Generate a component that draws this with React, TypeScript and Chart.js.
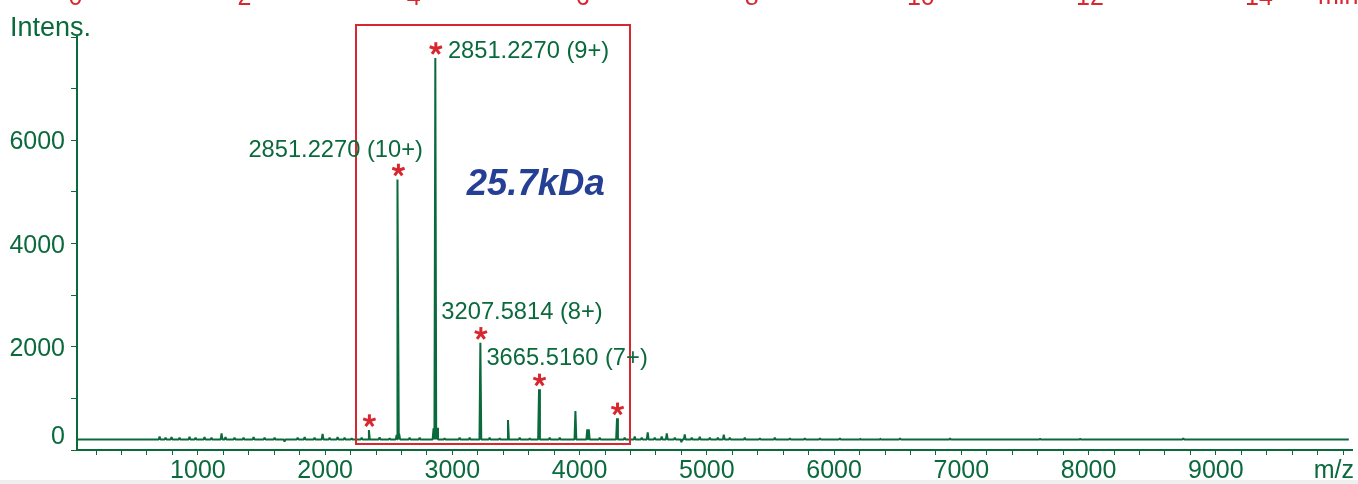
import React, { useEffect, useRef } from "react";
import { Chart, registerables } from "chart.js";

Chart.register(...registerables);

// ---------- data ----------
const BASELINE = 205;
const X_MIN = 50;
const X_MAX = 10070;
const Y_MIN = 0;
const Y_MAX = 8000;

const peakMz = [2344, 2572, 2866, 3220, 3437, 3681, 3967, 4060, 4072, 4294];
const peakIntensity = [387, 5241, 7595, 2077, 581, 1175, 755, 400, 400, 614];
const peakStarred = [true, true, true, true, false, true, false, false, false, true];
const peakLabels = ["", "2851.2270 (10+)", "2851.2270 (9+)", "3207.5814 (8+)", "", "3665.5160 (7+)", "", "", "", ""];

const noiseMz = [
  699, 746, 793, 856, 934, 982, 1052, 1107, 1186, 1217, 1288, 1359, 1438, 1524, 1603, 1681,
  1784, 1839, 1917, 1980, 2035, 2098, 2153, 2208, 2287, 2428, 2507, 2562, 2582, 2664, 2743,
  2852, 2880, 2939, 3057, 3136, 3293, 3372, 3529, 3608, 3765, 3844, 4158, 4354, 4433, 4488,
  4535, 4590, 4645, 4685, 4748, 4800, 4826, 4881, 4944, 5023, 5086, 5133, 5180, 5298, 5416,
  5534, 5652, 5770, 5888, 6045, 6203, 6360, 6518, 6911, 7619, 7934, 8744,
];
const noiseIntensity = [
  262, 240, 250, 238, 255, 240, 250, 238, 320, 250, 240, 238, 252, 240, 238, 165,
  240, 252, 238, 310, 240, 250, 238, 225, 240, 242, 225, 290, 310, 240, 238,
  420, 430, 225, 240, 238, 240, 225, 240, 225, 240, 238, 240, 240, 258, 240,
  340, 240, 258, 320, 240, 150, 300, 238, 255, 240, 238, 295, 240, 238, 225,
  238, 225, 225, 225, 225, 225, 225, 225, 222, 220, 220, 228,
];

const xTickValues = [
  200, 400, 600, 800, 1000, 1200, 1400, 1600, 1800, 2000, 2200, 2400, 2600, 2800, 3000,
  3200, 3400, 3600, 3800, 4000, 4200, 4400, 4600, 4800, 5000, 5200, 5400, 5600, 5800, 6000,
  6200, 6400, 6600, 6800, 7000, 7200, 7400, 7600, 7800, 8000, 8200, 8400, 8600, 8800, 9000,
  9200, 9400, 9600, 9800, 10000,
];
const xTickLabels = [1000, 2000, 3000, 4000, 5000, 6000, 7000, 8000, 9000];
const yTickLabels = [2000, 4000, 6000];
const timeTicks = [0, 2, 4, 6, 8, 10, 12, 14];

const boxMz = [2240, 4394];
const boxIntensity = [116, 8240];
const massText = "25.7kDa";
const massPos = [3655, 4937];

// ---------- styles ----------
const GREEN = "#0a6a3c";
const RED = "#d7282f";
const BLUE = "#253f94";
const FONT = '"Liberation Sans", Arial, sans-serif';

const labelLayout: Record<number, { align: CanvasTextAlign; dx: number; dy: number }> = {
  1: { align: "right", dx: 25, dy: -22.7 },
  2: { align: "left", dx: 12.6, dy: -0.4 },
  3: { align: "left", dx: -39, dy: -23.4 },
  5: { align: "left", dx: -52.6, dy: -24.3 },
};

function buildSpectrum() {
  const spikes = [
    ...peakMz.map((m, k) => ({ mz: m, i: peakIntensity[k], hw: 7 })),
    ...noiseMz.map((m, k) => ({ mz: m, i: noiseIntensity[k], hw: 7 })),
  ].sort((a, b) => a.mz - b.mz);
  const pts: { x: number; y: number }[] = [{ x: X_MIN, y: BASELINE }];
  for (const s of spikes) {
    pts.push({ x: s.mz - s.hw, y: BASELINE }, { x: s.mz, y: s.i }, { x: s.mz + s.hw, y: BASELINE });
  }
  pts.push({ x: 10045, y: BASELINE });
  return pts;
}

function drawStar(ctx: CanvasRenderingContext2D, cx: number, cy: number) {
  ctx.save();
  ctx.strokeStyle = RED;
  ctx.lineWidth = 3;
  ctx.lineCap = "butt";
  const r = 6.5;
  for (let k = 0; k < 5; k++) {
    const a = -Math.PI / 2 + (k * 2 * Math.PI) / 5;
    ctx.beginPath();
    ctx.moveTo(cx, cy);
    ctx.lineTo(cx + r * Math.cos(a), cy + r * Math.sin(a));
    ctx.stroke();
  }
  ctx.restore();
}

const overlayPlugin = {
  id: "overlay",
  beforeDraw(chart: any) {
    const ctx = chart.ctx as CanvasRenderingContext2D;
    ctx.save();
    ctx.fillStyle = "#ffffff";
    ctx.fillRect(0, 0, chart.width, chart.height);
    ctx.fillStyle = "#efefef";
    ctx.fillRect(0, 480, chart.width, 4);
    ctx.restore();
  },
  afterDraw(chart: any) {
    const ctx = chart.ctx as CanvasRenderingContext2D;
    const xs = chart.scales.x;
    const ys = chart.scales.y;
    const x2 = chart.scales.x2;
    ctx.save();

    // y tick labels
    ctx.fillStyle = GREEN;
    ctx.font = `25px ${FONT}`;
    ctx.textAlign = "right";
    ctx.textBaseline = "alphabetic";
    for (const v of yTickLabels) {
      ctx.fillText(String(v), 65, ys.getPixelForValue(v) + 9.2);
    }
    ctx.fillText("0", 65, ys.getPixelForValue(0) - 6);

    // x tick labels
    ctx.textAlign = "center";
    for (const v of xTickLabels) {
      ctx.fillText(String(v), xs.getPixelForValue(v), 478);
    }
    ctx.textAlign = "right";
    ctx.fillText("m/z", 1354, 478);

    // axis title
    ctx.textAlign = "left";
    ctx.font = `27px ${FONT}`;
    ctx.fillText("Intens.", 10, 36);

    // red time ticks from the chart above (cut off)
    ctx.fillStyle = RED;
    ctx.font = `25px ${FONT}`;
    ctx.textAlign = "center";
    for (const t of timeTicks) {
      ctx.fillText(String(t), x2.getPixelForValue(t), 5);
    }
    ctx.textAlign = "left";
    ctx.fillText("min", 1318, 4);

    // red box
    ctx.strokeStyle = RED;
    ctx.lineWidth = 2;
    const bx0 = xs.getPixelForValue(boxMz[0]);
    const bx1 = xs.getPixelForValue(boxMz[1]);
    const by0 = ys.getPixelForValue(boxIntensity[1]);
    const by1 = ys.getPixelForValue(boxIntensity[0]);
    ctx.strokeRect(Math.round(bx0), Math.round(by0), Math.round(bx1 - bx0), Math.round(by1 - by0));

    // stars
    peakMz.forEach((m, k) => {
      if (!peakStarred[k]) return;
      const px = xs.getPixelForValue(m);
      const py = ys.getPixelForValue(peakIntensity[k]);
      drawStar(ctx, px + 0.5, py - 9.2);
    });

    // peak labels
    ctx.fillStyle = GREEN;
    ctx.font = `23.7px ${FONT}`;
    peakMz.forEach((m, k) => {
      const txt = peakLabels[k];
      if (!txt) return;
      const lay = labelLayout[k];
      const px = xs.getPixelForValue(m);
      const py = ys.getPixelForValue(peakIntensity[k]);
      ctx.textAlign = lay.align;
      ctx.fillText(txt, px + lay.dx, py + lay.dy);
    });

    // mass annotation
    ctx.fillStyle = BLUE;
    ctx.font = `italic bold 36.5px ${FONT}`;
    ctx.textAlign = "center";
    ctx.fillText(massText, xs.getPixelForValue(massPos[0]), ys.getPixelForValue(massPos[1]));

    ctx.restore();
  },
};

export default function App() {
  const ref = useRef<HTMLCanvasElement | null>(null);
  useEffect(() => {
    if (!ref.current) return;
    const chart = new Chart(ref.current, {
      type: "line",
      data: {
        datasets: [
          {
            data: buildSpectrum(),
            borderColor: GREEN,
            borderWidth: 2,
            borderJoinStyle: "bevel",
            pointRadius: 0,
            tension: 0,
            fill: false,
          },
        ],
      },
      options: {
        animation: false,
        responsive: false,
        maintainAspectRatio: false,
        events: [],
        layout: { padding: { left: 0, top: 37, right: 6, bottom: 0 } },
        plugins: { legend: { display: false }, tooltip: { enabled: false }, title: { display: false } },
        scales: {
          x: {
            type: "linear",
            min: X_MIN,
            max: X_MAX,
            afterBuildTicks: (s: any) => {
              s.ticks = xTickValues.map((v) => ({ value: v }));
            },
            afterFit: (s: any) => {
              s.height = 34;
            },
            ticks: { display: false, autoSkip: false },
            grid: { display: true, drawOnChartArea: false, drawTicks: true, tickLength: 5, color: GREEN, lineWidth: 1 },
            border: { display: true, color: GREEN, width: 2 },
          },
          x2: {
            type: "linear",
            position: "top",
            display: false,
            min: 0.018,
            max: 15.1,
          },
          y: {
            type: "linear",
            min: Y_MIN,
            max: Y_MAX,
            ticks: { display: false, stepSize: 1000 },
            afterFit: (s: any) => {
              s.width = 77;
            },
            grid: { display: true, drawOnChartArea: false, drawTicks: true, tickLength: 6, color: GREEN, lineWidth: 1 },
            border: { display: true, color: GREEN, width: 2 },
          },
        },
      } as any,
      plugins: [overlayPlugin],
    });
    return () => chart.destroy();
  }, []);
  return (
    <div style={{ position: "fixed", left: 0, top: 0, width: 1358, height: 484 }}>
      <canvas ref={ref} width={1358} height={484} style={{ display: "block", width: 1358, height: 484 }} />
    </div>
  );
}
